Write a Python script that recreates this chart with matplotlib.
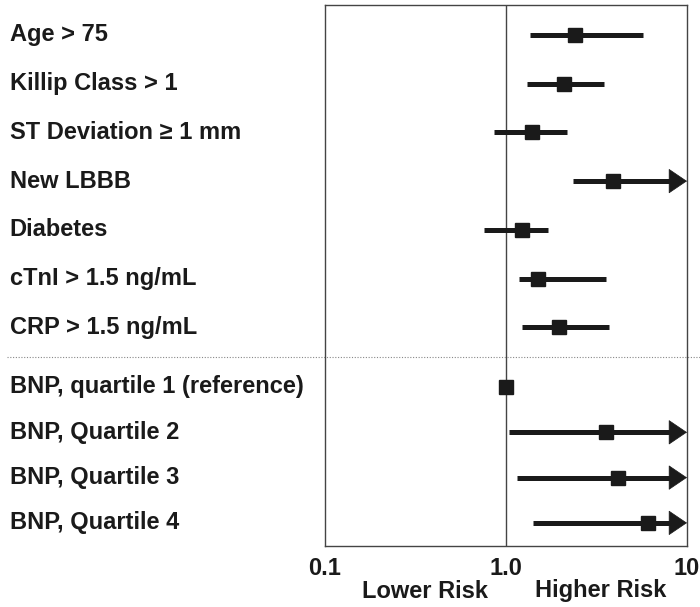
import numpy as np
import matplotlib
matplotlib.use("Agg")
import matplotlib.pyplot as plt
import matplotlib.transforms as mtransforms

plt.rcParams['font.family'] = ['Liberation Sans', 'DejaVu Sans']

labels = ["Age > 75", "Killip Class > 1", "ST Deviation \u2265 1 mm", "New LBBB",
          "Diabetes", "cTnI > 1.5 ng/mL", "CRP > 1.5 ng/mL",
          "BNP, quartile 1 (reference)", "BNP, Quartile 2", "BNP, Quartile 3",
          "BNP, Quartile 4"]
odds = [2.41, 2.10, 1.40, 3.93, 1.23, 1.50, 1.97, 1.0, 3.58, 4.16, 6.09]
lower = [1.36, 1.31, 0.865, 2.36, 0.76, 1.18, 1.23, 1.0, 1.04, 1.15, 1.42]
upper = [5.69, 3.50, 2.18, None, 1.72, 3.58, 3.71, 1.0, None, None, None]  # None = beyond 10 (arrow)

# row positions (pixel-like units, top = 0)
ypos = [35 + 48.7 * i for i in range(7)] + [387 + 45.3 * j for j in range(4)]
sep_y = 357

fig = plt.figure(figsize=(7.0, 6.07), dpi=100)
ax = fig.add_axes([324.5 / 700, 1 - 546 / 607, 362.5 / 700, 541 / 607])
ax.set_xscale('log')
ax.set_xlim(0.1, 10)
ax.set_ylim(546, 5)

dark = '#1a1a1a'
head_base = 10 * 10 ** (-17 / 181.0)  # arrow head ~17px long, decade ~181px
for y, o, lo, hi in zip(ypos, odds, lower, upper):
    if hi is None:
        ax.plot([lo, head_base * 1.02], [y, y], color=dark, lw=3.6, solid_capstyle='butt')
        ax.annotate('', xy=(10, y), xytext=(head_base, y),
                    arrowprops=dict(arrowstyle='-|>,head_length=0.62,head_width=0.42',
                                    mutation_scale=20, lw=0.5, fc=dark, ec=dark,
                                    shrinkA=0, shrinkB=0))
    elif hi > lo:
        ax.plot([lo, hi], [y, y], color=dark, lw=3.6, solid_capstyle='butt')
    ax.plot(o, y, marker='s', ms=9.5, color=dark, zorder=5)

ax.axvline(1.0, color='#444444', lw=1.0, zorder=1)

trans = mtransforms.blended_transform_factory(ax.transAxes, ax.transData)
ax.plot([-0.876, 1.04], [sep_y, sep_y], transform=trans, clip_on=False,
        color='#888888', lw=0.8, ls=(0, (1, 1.5)))

for y, lab in zip(ypos, labels):
    ax.text(-0.868, y, lab, transform=trans, ha='left', va='center',
            fontsize=17, fontweight='bold', color=dark)

ax.set_yticks([])
ax.set_xticks([0.1, 1.0, 10])
ax.set_xticklabels(['0.1', '1.0', '10'], fontsize=17, fontweight='bold', color=dark)
ax.minorticks_off()
ax.tick_params(axis='x', length=0, pad=8)
for s in ax.spines.values():
    s.set_color('#444444')
    s.set_linewidth(1.0)

fig.text(425 / 700, 1 - 591 / 607, 'Lower Risk', ha='center', va='center',
         fontsize=17, fontweight='bold', color=dark)
fig.text(601 / 700, 1 - 591 / 607, 'Higher Risk', ha='center', va='center',
         fontsize=17, fontweight='bold', color=dark)

fig.savefig('out.png', dpi=100)
